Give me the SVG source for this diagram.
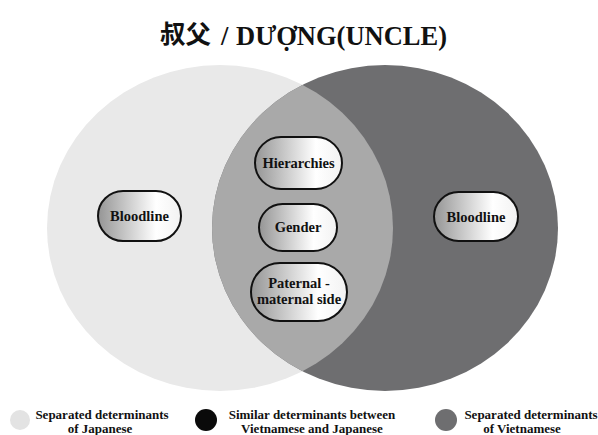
<svg xmlns="http://www.w3.org/2000/svg" width="598" height="435" viewBox="0 0 598 435">
<style>
.pill{fill:url(#pg);stroke:#111;stroke-width:2}
.t{font-family:"Liberation Serif","Times New Roman",serif;font-weight:bold;fill:#111;text-anchor:middle}
.pt{font-size:14.5px}
.lg{font-size:13px}
.ttl{font-family:"Liberation Serif","Times New Roman",serif;font-weight:bold;fill:#111;font-size:26.5px}
</style>
<defs>
<linearGradient id="pg" x1="0" y1="0" x2="1" y2="0">
<stop offset="0" stop-color="#959595"/>
<stop offset="0.7" stop-color="#ffffff"/>
<stop offset="1" stop-color="#f2f2f2"/>
</linearGradient>
<clipPath id="cl"><ellipse cx="220" cy="228" rx="173" ry="163"/></clipPath>
</defs>
<rect width="598" height="435" fill="#fff"/>
<g id="title">
<text x="160" y="43" style="font-family:'Noto Sans CJK SC','Noto Sans CJK JP',sans-serif;font-weight:bold;font-size:25.5px;fill:#111">叔父</text>
<text x="221" y="44.5" class="ttl">/</text>
<text x="236" y="44.5" class="ttl">DƯỢNG(UNCLE)</text>
</g>
<g id="circles">
<ellipse cx="220" cy="228" rx="173" ry="163" fill="#e9e9e9"/>
<ellipse cx="385" cy="228" rx="173" ry="163" fill="#6e6e70"/>
<ellipse cx="385" cy="228" rx="173" ry="163" fill="#a9a9a9" clip-path="url(#cl)"/>
</g>
<g id="connectors"></g>
<g id="bloodline-jp"><rect class="pill" x="98" y="191" width="83" height="50" rx="25"/><text class="t pt" x="139.5" y="221">Bloodline</text></g>
<g id="bloodline-vn"><rect class="pill" x="434" y="192" width="84" height="49" rx="24.5"/><text class="t pt" x="476" y="221.5">Bloodline</text></g>
<g id="hierarchies"><rect class="pill" x="255" y="137" width="87" height="52" rx="26"/><text class="t pt" x="298.5" y="168">Hierarchies</text></g>
<g id="gender"><rect class="pill" x="259" y="204" width="78" height="47" rx="23.5"/><text class="t pt" x="298" y="232">Gender</text></g>
<g id="paternal"><rect class="pill" x="251" y="263" width="96" height="58" rx="29"/><text class="t pt" x="299" y="288">Paternal -</text><text class="t pt" x="299" y="304">maternal side</text></g>
<g id="legend">
<circle cx="20" cy="420" r="10" fill="#e3e3e3"/>
<text class="t lg" x="102" y="419">Separated determinants</text>
<text class="t lg" x="100" y="433">of Japanese</text>
<circle cx="206" cy="420" r="11" fill="#0a0a0a"/>
<text class="t lg" x="312" y="419">Similar determinants between</text>
<text class="t lg" x="312" y="433">Vietnamese and Japanese</text>
<circle cx="446" cy="420" r="11" fill="#6e6e70"/>
<text class="t lg" x="531" y="419">Separated determinants</text>
<text class="t lg" x="522" y="433">of Vietnamese</text>
</g>
</svg>
